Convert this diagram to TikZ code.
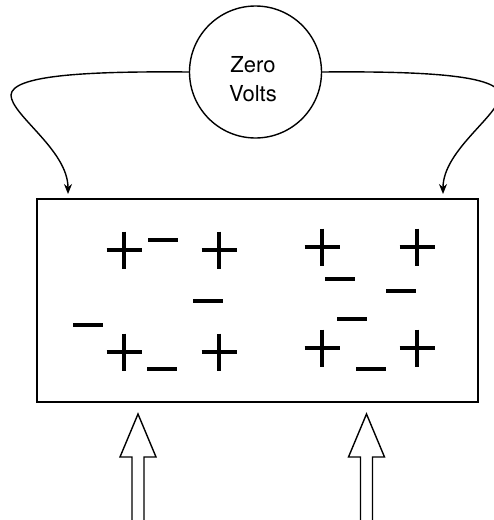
\documentclass[tikz,border=0pt]{standalone}
\usepackage{fontspec}
\setsansfont{TeX Gyre Heros}
\usepackage{tikz}
\usetikzlibrary{arrows.meta}

\begin{document}
\begin{tikzpicture}[x=1pt,y=-1pt,>={Stealth[length=10pt,width=8pt]},
			wire/.style={->,line width=1.4pt,shorten >=5pt},
			charge/.style={line width=4pt},
			pics/poscharge/.style={code={\draw[charge] (-17.5,0) -- (17.5,0) (0,-18.5) -- (0,18.5);}},
			pics/negcharge/.style={code={\draw[charge] (-15,0) -- (15,0);}},
			pics/hollowarrow/.style={code={\draw[line width=1.4pt,line join=miter]
				(-6,110) -- (-6,43) -- (-18,43) -- (0,0) -- (18,43) -- (6,43) -- (6,110);}}]
			\useasboundingbox (0,0) rectangle (494,520);
			
			\node[circle,draw,line width=1.4pt,minimum size=132pt,inner sep=0pt] (zero) at (255.5,72) {};
			\node[align=center,inner sep=0pt,font=\sffamily\fontsize{22}{29}\selectfont] (zerotext) at (253,79.5) {Zero\\Volts};
			\node[draw,line width=2pt,minimum width=441pt,minimum height=203pt,inner sep=0pt] (plate) at (257.5,300.5) {};
			
			\coordinate (lefttip) at (68,199);
			\coordinate (righttip) at (443,199);
			
			% wires to the plate
			\draw[wire] (zero.west) .. controls (80,71) and (12,76) .. (11,95)
				.. controls (11,115) and (68,150) .. (lefttip);
			\draw[wire] (zero.east) .. controls (431,71) and (499,76) .. (500,95)
				.. controls (500,115) and (443,150) .. (righttip);
			
			% charges
			\foreach \x/\y in {124/250,219/250,322/247,417/247,124/352,219/352,322/348,417/348}
				\pic at (\x,\y) {poscharge};
			\foreach \x/\y in {163/240,208/301,88/325,162/369,340/279,401/291,352/319,371/369}
				\pic at (\x,\y) {negcharge};
			
			% incoming arrows
			\pic at (138,414) {hollowarrow};
			\pic at (366.5,414) {hollowarrow};
		\end{tikzpicture}
\end{document}
